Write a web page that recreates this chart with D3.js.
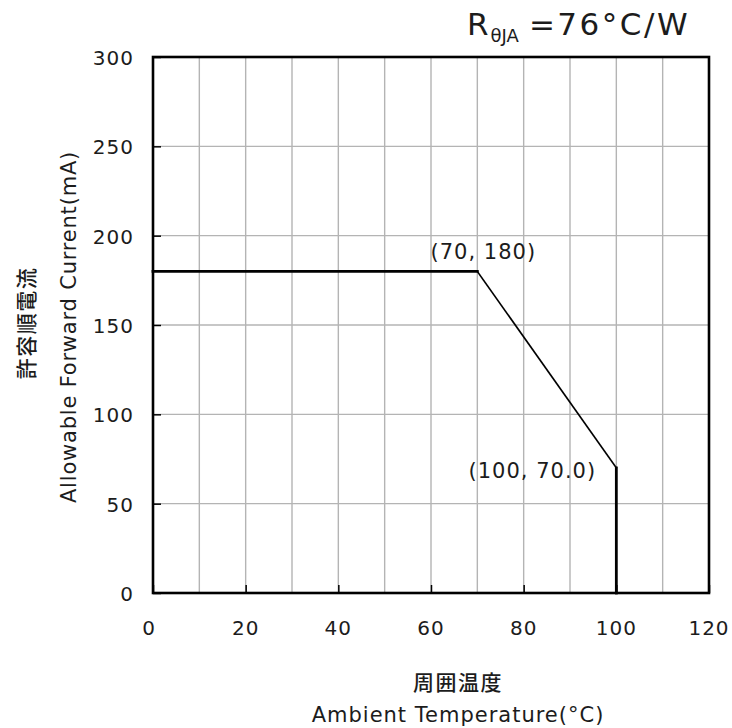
<!DOCTYPE html>
<html>
<head>
<meta charset="utf-8">
<script src="https://cdn.jsdelivr.net/npm/d3@7"></script>
<style>
  html, body { margin: 0; padding: 0; background: #fff; }
  svg text { font-family: "DejaVu Sans", Verdana, sans-serif; fill: #1c1c1c; }
  .jp { font-family: "Noto Sans CJK JP", sans-serif; font-weight: 500; }
</style>
</head>
<body>
<div id="chart"></div>
<script>
// Derating curve data
var tempPoints = [0, 70, 100, 100];
var currentPoints = [180, 180, 70, 0];
var xTicks = [0, 20, 40, 60, 80, 100, 120];
var yTicks = [0, 50, 100, 150, 200, 250, 300];
var xGrid = [10, 20, 30, 40, 50, 60, 70, 80, 90, 100, 110];
var yGrid = [50, 100, 150, 200, 250];
var annotations = [
    { t: 70, i: 180, text: "(70, 180)" },
    { t: 100, i: 70, text: "(100, 70.0)" }
];

var W = 732, H = 728;
var svg = d3.select("#chart").append("svg")
    .attr("width", W).attr("height", H);

var x = d3.scaleLinear().domain([0, 120]).range([153, 709]);
var y = d3.scaleLinear().domain([0, 300]).range([593, 57]);

// Grid
svg.append("g").selectAll("line.vg").data(xGrid).enter().append("line")
    .attr("x1", function (d) { return x(d); }).attr("x2", function (d) { return x(d); })
    .attr("y1", y(0)).attr("y2", y(300))
    .attr("stroke", "#b4b4b4").attr("stroke-width", 1.4);
svg.append("g").selectAll("line.hg").data(yGrid).enter().append("line")
    .attr("y1", function (d) { return y(d); }).attr("y2", function (d) { return y(d); })
    .attr("x1", x(0)).attr("x2", x(120))
    .attr("stroke", "#b4b4b4").attr("stroke-width", 1.4);

// Inward ticks
svg.append("g")
    .attr("transform", "translate(0," + y(0) + ")")
    .call(d3.axisBottom(x).tickValues(xTicks).tickSizeInner(-8).tickSizeOuter(0).tickFormat(""))
    .call(function (g) { g.select(".domain").remove(); g.selectAll("line").attr("stroke", "#000").attr("stroke-width", 1.5); });
svg.append("g")
    .attr("transform", "translate(" + x(0) + ",0)")
    .call(d3.axisLeft(y).tickValues(yTicks).tickSizeInner(-8).tickSizeOuter(0).tickFormat(""))
    .call(function (g) { g.select(".domain").remove(); g.selectAll("line").attr("stroke", "#000").attr("stroke-width", 1.5); });

// Tick labels
svg.append("g").selectAll("text").data(xTicks).enter().append("text")
    .attr("x", function (d) { return x(d) - (d === 0 ? 4 : 0); })
    .attr("y", y(0) + 42)
    .attr("text-anchor", "middle")
    .attr("font-size", 20).attr("letter-spacing", 1)
    .text(function (d) { return d; });
svg.append("g").selectAll("text").data(yTicks).enter().append("text")
    .attr("x", x(0) - 19)
    .attr("y", function (d) { return y(d) + 8; })
    .attr("text-anchor", "end")
    .attr("font-size", 20).attr("letter-spacing", 1)
    .text(function (d) { return d; });

// Curve segments
var pts = tempPoints.map(function (t, k) { return [t, currentPoints[k]]; });
var segs = d3.pairs(pts);
svg.append("g").selectAll("line").data(segs).enter().append("line")
    .attr("x1", function (d) { return x(d[0][0]); })
    .attr("y1", function (d) { return y(d[0][1]); })
    .attr("x2", function (d) { return x(d[1][0]); })
    .attr("y2", function (d) { return y(d[1][1]); })
    .attr("stroke", "#000")
    .attr("stroke-linecap", "square")
    .attr("stroke-width", function (d) {
        return (d[0][0] !== d[1][0] && d[0][1] !== d[1][1]) ? 1.6 : 2.8;
    });

// Annotations
svg.append("g").selectAll("text").data(annotations).enter().append("text")
    .attr("x", function (d, k) { return x(d.t) + (k === 0 ? 6 : -84); })
    .attr("y", function (d, k) { return y(d.i) + (k === 0 ? -12 : 10); })
    .attr("text-anchor", "middle")
    .attr("font-size", 21).attr("letter-spacing", 1)
    .text(function (d) { return d.text; });

// Frame
svg.append("rect")
    .attr("x", x(0)).attr("y", y(300))
    .attr("width", x(120) - x(0)).attr("height", y(0) - y(300))
    .attr("fill", "none").attr("stroke", "#000").attr("stroke-width", 2.6);

// Title
var title = svg.append("text")
    .attr("x", 467).attr("y", 35)
    .attr("font-size", 31);
title.append("tspan").text("R");
title.append("tspan").attr("font-size", 18).attr("dy", 7).attr("dx", 2).text("θJA");
title.append("tspan").attr("dy", -7).attr("dx", 10).attr("letter-spacing", 2.5).text("=76°C/W");

// Axis titles
svg.append("text").attr("class", "jp")
    .attr("x", 458).attr("y", 690)
    .attr("text-anchor", "middle")
    .attr("font-size", 21).attr("letter-spacing", 1.5)
    .text("周囲温度");
svg.append("text")
    .attr("x", 458).attr("y", 722)
    .attr("text-anchor", "middle")
    .attr("font-size", 21).attr("letter-spacing", 1)
    .text("Ambient Temperature(°C)");

svg.append("text").attr("class", "jp")
    .attr("transform", "translate(34,323) rotate(-90)")
    .attr("text-anchor", "middle")
    .attr("font-size", 21).attr("letter-spacing", 1.5)
    .text("許容順電流");
svg.append("text")
    .attr("transform", "translate(76,327) rotate(-90)")
    .attr("text-anchor", "middle")
    .attr("font-size", 21).attr("letter-spacing", 0.8)
    .text("Allowable Forward Current(mA)");
</script>
</body>
</html>
